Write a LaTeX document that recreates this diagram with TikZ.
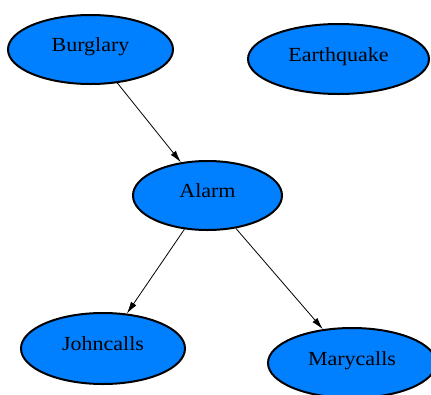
\documentclass[tikz,border=0pt]{standalone}
\usepackage{fontspec}
\setmainfont{Liberation Serif}
\usetikzlibrary{shapes.geometric,arrows.meta}
\definecolor{nodeblue}{RGB}{0,128,255}
\newcommand{\nodelbl}[1]{\raisebox{-2pt}[0pt][0pt]{\scalebox{1.1}[1]{#1}}}
\tikzset{
  bnode/.style={ellipse, draw=black, line width=2pt, fill=nodeblue, inner sep=0pt,
    font=\fontsize{20}{22}\selectfont, text=black},
  edge/.style={draw=black, line width=0.8pt, -{Latex[length=12pt,width=6.5pt]}}
}
\begin{document}
\begin{tikzpicture}[x=1pt,y=-1pt]
\useasboundingbox (0,0) rectangle (431,394);
\node[bnode, minimum width=165pt, minimum height=69pt] (burglary) at (90.5,49.5) {\nodelbl{Burglary}};
\node[bnode, minimum width=181pt, minimum height=70pt] (earthquake) at (338.5,59) {\nodelbl{Earthquake}};
\node[bnode, minimum width=149pt, minimum height=69pt] (alarm) at (207.5,195.5) {\nodelbl{Alarm}};
\node[bnode, minimum width=164pt, minimum height=71pt] (john) at (103,348.5) {\nodelbl{Johncalls}};
\node[bnode, minimum width=168pt, minimum height=70pt] (mary) at (352,363) {\nodelbl{Marycalls}};
\draw[edge] (burglary) -- (alarm);
\draw[edge] (alarm) -- (john);
\draw[edge] (alarm) -- (mary);
\end{tikzpicture}
\end{document}
